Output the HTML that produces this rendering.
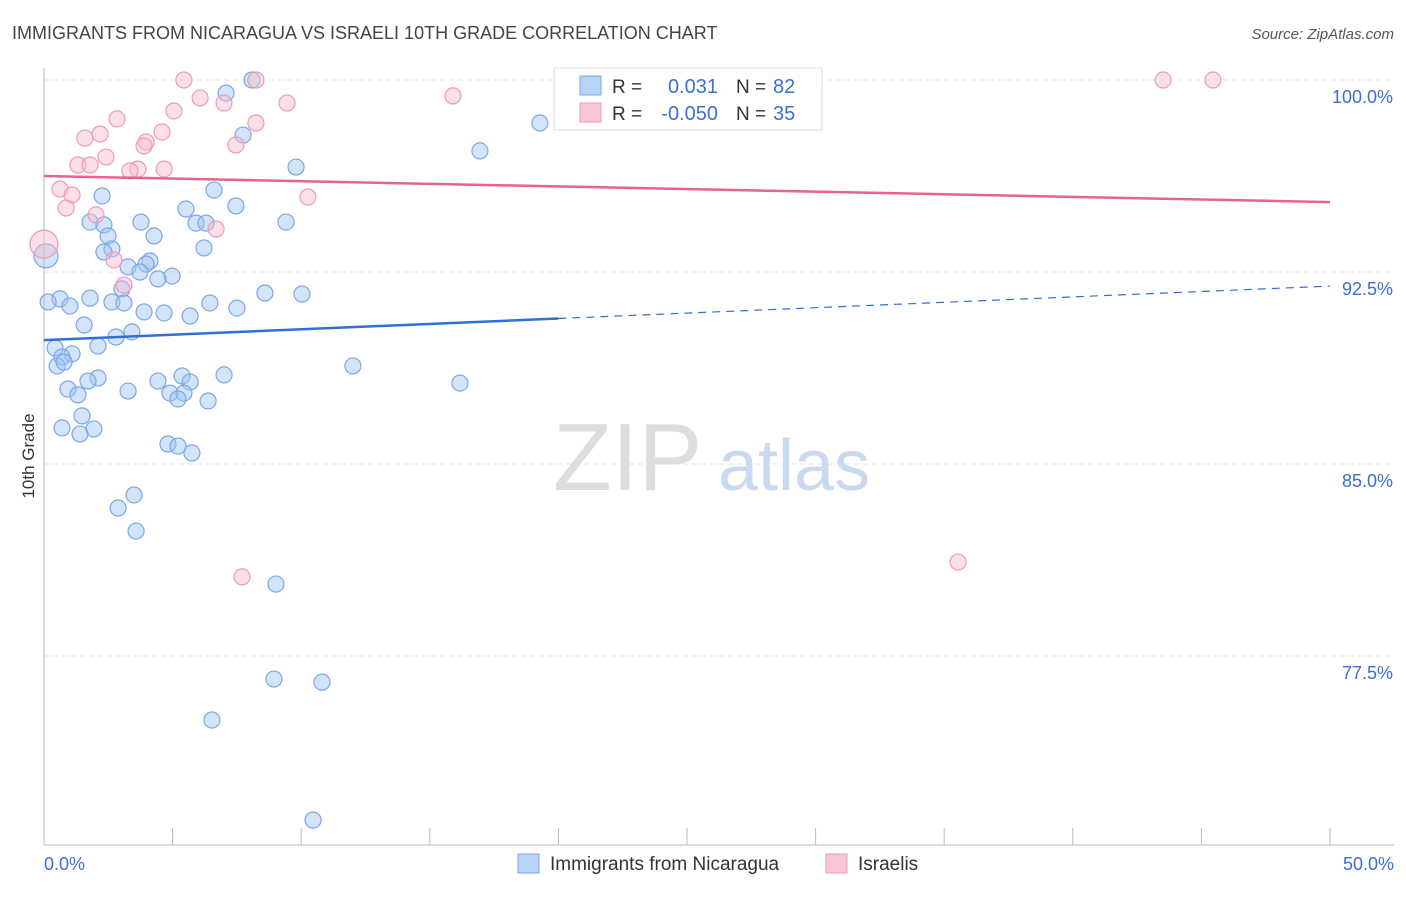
<!DOCTYPE html>
<html><head><meta charset="utf-8"><style>
body{margin:0;background:#fff;font-family:"Liberation Sans",sans-serif;}
svg text{font-family:"Liberation Sans",sans-serif;}
</style></head><body>
<svg id="chart" width="1406" height="892" viewBox="0 0 1406 892" xmlns="http://www.w3.org/2000/svg">
<text x="12" y="39" font-size="18" fill="#444">IMMIGRANTS FROM NICARAGUA VS ISRAELI 10TH GRADE CORRELATION CHART</text>
<text x="1394" y="39" font-size="15" fill="#555" text-anchor="end" font-style="italic">Source: ZipAtlas.com</text>
<g id="grid"></g>
<g><text x="553" y="490" font-size="96" fill="#ddd" font-family="Liberation Serif">ZIP</text><text x="718" y="490" font-size="72" fill="#c9daf0">atlas</text></g>
<g id="pts"></g>
<g id="trend"></g>
<text transform="translate(34,456) rotate(-90)" font-size="17" fill="#333" text-anchor="middle">10th Grade</text>
<text x="44" y="870" font-size="18" fill="#3b6fd4">0.0%</text>
<text x="1394" y="870" font-size="18" fill="#3b6fd4" text-anchor="end">50.0%</text>
<g>
<rect x="554" y="68" width="268" height="62" fill="#fff" stroke="#ddd"/>
<rect x="580" y="76" width="21" height="19" fill="#b8d3f5" stroke="#7aa7e6"/>
<rect x="580" y="103" width="21" height="19" fill="#f9c6d6" stroke="#ee9ab6"/>
<text x="612" y="93" font-size="19" fill="#333">R =</text><text x="718" y="93" font-size="20" fill="#3b6fd4" text-anchor="end">0.031</text>
<text x="736" y="93" font-size="19" fill="#333">N =</text><text x="773" y="93" font-size="20" fill="#3b6fd4">82</text>
<text x="612" y="120" font-size="19" fill="#333">R =</text><text x="718" y="120" font-size="20" fill="#3b6fd4" text-anchor="end">-0.050</text>
<text x="736" y="120" font-size="19" fill="#333">N =</text><text x="773" y="120" font-size="20" fill="#3b6fd4">35</text>
</g>
<g>
<rect x="518" y="854" width="21" height="19" fill="#b8d3f5" stroke="#7aa7e6"/>
<text x="550" y="870" font-size="19" fill="#333">Immigrants from Nicaragua</text>
<rect x="826" y="854" width="21" height="19" fill="#f9c6d6" stroke="#ee9ab6"/>
<text x="858" y="870" font-size="19" fill="#333">Israelis</text>
</g>
</svg>
<script>
const yTicks=[100,92.5,85,77.5];
const yTickLabels=["100.0%","92.5%","85.0%","77.5%"];
const blueX=[8.09,7.08,19.28,7.74,16.95,9.80,2.26,6.61,7.46,5.52,1.79,2.33,3.77,5.91,6.30,9.41,2.49,4.28,6.22,2.64,2.33,0.08,4.12,3.97,3.27,3.73,4.98,4.43,3.03,8.59,10.03,0.62,0.16,1.79,2.64,3.11,6.45,1.01,7.50,3.89,4.67,5.68,1.56,3.42,2.80,2.10,0.43,1.09,0.70,0.51,12.01,0.78,2.10,1.71,4.43,5.37,5.68,7.00,16.17,0.93,3.27,1.32,4.90,5.44,5.21,6.38,1.48,0.70,1.94,1.40,4.82,5.21,5.75,3.50,2.88,3.58,9.02,8.94,10.81,6.53,10.46];
const blueY=[100.0,99.49,98.32,97.85,97.23,96.60,95.47,95.70,95.08,94.96,94.45,94.34,94.45,94.41,94.41,94.45,93.91,93.91,93.44,93.40,93.28,93.13,92.93,92.81,92.70,92.50,92.34,92.23,91.84,91.68,91.64,91.45,91.33,91.48,91.33,91.29,91.29,91.17,91.09,90.94,90.90,90.78,90.43,90.16,89.96,89.61,89.53,89.30,89.18,88.83,88.83,88.98,88.36,88.24,88.24,88.44,88.20,88.48,88.16,87.93,87.85,87.70,87.77,87.77,87.54,87.46,86.88,86.41,86.37,86.17,85.78,85.70,85.43,83.79,83.28,82.38,80.31,76.60,76.48,75.00,71.09];
const pinkX=[5.44,8.24,43.51,45.45,15.90,6.07,9.45,7.00,5.05,2.84,8.24,2.18,1.59,4.59,3.97,3.89,7.46,2.41,1.32,1.79,3.65,4.67,3.34,0.62,1.09,10.26,0.86,2.02,6.69,0,2.72,3.11,7.70,35.54];
const pinkY=[100,100,100,100,99.38,99.30,99.10,99.10,98.79,98.48,98.32,97.89,97.73,97.97,97.58,97.42,97.46,96.99,96.68,96.68,96.52,96.52,96.45,95.74,95.51,95.43,95.00,94.73,94.18,93.59,92.97,91.99,80.59,81.17];
const blueTrend=[89.84,91.95];
const pinkTrend=[96.25,95.23];
const NS="http://www.w3.org/2000/svg";
const X=v=>44+v/50*1286;
const Y=v=>80+(100-v)*25.6;
function mk(t,a,p){const e=document.createElementNS(NS,t);for(const k in a)e.setAttribute(k,a[k]);p.appendChild(e);return e;}
const grid=document.getElementById('grid');
yTicks.forEach((t,i)=>{
 const l=mk('line',{x1:44,x2:1394,y1:Y(t),y2:Y(t),stroke:'#e3e3e3','stroke-dasharray':'5,4'},grid);
 
 
 const tx=mk('text',{x:1393,y:Y(t)+23,'font-size':18,fill:'#3b6fd4','text-anchor':'end'},grid);
 tx.textContent=yTickLabels[i];
 
 
});
mk('line',{x1:44,x2:44,y1:68,y2:845,stroke:'#bbb'},grid);
mk('line',{x1:44,x2:1394,y1:845,y2:845,stroke:'#bbb'},grid);
for(let i=0;i<=10;i++){const tk=mk('line',{x1:X(i*5),x2:X(i*5),y1:828,y2:845,stroke:'#bbb'},grid);
 
 }
const pts=document.getElementById('pts');
blueX.forEach((x,i)=>{const c=mk('circle',{cx:X(x),cy:Y(blueY[i]),r:(i===21?12:8),fill:'rgba(160,196,240,0.45)',stroke:'#7aa7e6','stroke-width':1.2},pts);
 
 });
pinkX.forEach((x,i)=>{const c=mk('circle',{cx:X(x),cy:Y(pinkY[i]),r:(i===29?14:8),fill:'rgba(247,186,206,0.45)',stroke:'#ee9ab6','stroke-width':1.2},pts);
 
 });
const tr=document.getElementById('trend');
const bAt=x=>blueTrend[0]+(blueTrend[1]-blueTrend[0])*x/50;
const b1=mk('line',{x1:X(0),y1:Y(bAt(0)),x2:X(20),y2:Y(bAt(20)),stroke:'#2f6fd6','stroke-width':2.5},tr);


const b2=mk('line',{x1:X(20),y1:Y(bAt(20)),x2:X(50),y2:Y(bAt(50)),stroke:'#2f6fd6','stroke-width':1.2,'stroke-dasharray':'8,6'},tr);


const p1=mk('line',{x1:X(0),y1:Y(pinkTrend[0]),x2:X(50),y2:Y(pinkTrend[1]),stroke:'#e7628e','stroke-width':2.5},tr);


</script>
</body></html>
